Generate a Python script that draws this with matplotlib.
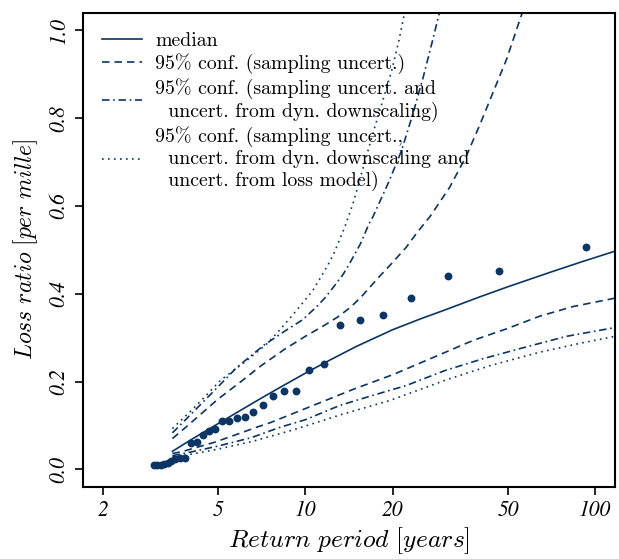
import numpy as np
import matplotlib
matplotlib.use('Agg')
import matplotlib.pyplot as plt
from matplotlib.ticker import FixedLocator, FuncFormatter, NullLocator

# empirical losses (return period in years, loss ratio in per mille)
obs_period = [3.0, 3.08, 3.17, 3.26, 3.35, 3.45, 3.56, 3.69, 3.86, 4.03, 4.22,
              4.42, 4.64, 4.88, 5.17, 5.47, 5.80, 6.18, 6.62, 7.12, 7.73, 8.46,
              9.28, 10.32, 11.59, 13.2, 15.5, 18.6, 23.1, 31.0, 46.5, 92.8]
obs_loss = [0.011, 0.011, 0.011, 0.013, 0.015, 0.020, 0.024, 0.025, 0.025,
            0.061, 0.062, 0.078, 0.088, 0.091, 0.109, 0.109, 0.118, 0.119,
            0.130, 0.146, 0.166, 0.179, 0.179, 0.226, 0.241, 0.328, 0.340,
            0.351, 0.391, 0.440, 0.452, 0.506]

med_x = [3.48, 4, 5, 6, 7, 8, 10, 12, 15, 20, 25, 30, 40, 50, 70, 90, 117]
med_y = [0.041, 0.066, 0.104, 0.135, 0.161, 0.183, 0.219, 0.247, 0.280, 0.318,
         0.343, 0.362, 0.393, 0.416, 0.449, 0.473, 0.497]

# sampling uncertainty
samp_up_x = [3.48, 4.0, 5.0, 6.0, 7.0, 8.5, 10.0, 11.5, 13.0, 14.3, 15.5, 16.6,
             18.0, 19.6, 22.3, 24.2, 27.0, 31.5, 36.0, 40.0, 44.0, 49.5, 56.0]
samp_up_y = [0.070, 0.104, 0.160, 0.200, 0.235, 0.274, 0.303, 0.326, 0.348,
             0.369, 0.391, 0.413, 0.439, 0.465, 0.506, 0.538, 0.577, 0.643,
             0.715, 0.785, 0.852, 0.935, 1.04]
samp_lo_x = [3.48, 3.74, 4.88, 6.0, 6.8, 7.55, 10.5, 14.6, 20.1, 30.0, 38.0,
             49.4, 64.4, 84.0, 117]
samp_lo_y = [0.036, 0.040, 0.062, 0.083, 0.096, 0.106, 0.144, 0.182, 0.216,
             0.265, 0.294, 0.320, 0.349, 0.371, 0.390]

# + dyn. downscaling
dyn_up_x = [3.48, 4.0, 5.0, 5.8, 7.2, 8.5, 9.8, 11.0, 11.7, 12.4, 13.5, 14.3,
            15.5, 16.6, 17.1, 19.5, 21.5, 23.5, 25.5, 27.5, 29.0]
dyn_up_y = [0.083, 0.123, 0.188, 0.232, 0.283, 0.315, 0.341, 0.372, 0.391,
            0.412, 0.444, 0.472, 0.514, 0.560, 0.575, 0.658, 0.727, 0.810,
            0.893, 0.978, 1.04]
dyn_lo_x = [3.48, 4.0, 5.0, 6.5, 8.2, 10.0, 13.2, 17.0, 22.3, 30.3, 41.0, 56.4,
            79.6, 117]
dyn_lo_y = [0.031, 0.039, 0.053, 0.072, 0.096, 0.113, 0.146, 0.168, 0.191,
            0.225, 0.252, 0.277, 0.303, 0.323]

# + loss model
all_up_x = [3.48, 4.0, 4.5, 5.1, 6.4, 7.4, 8.2, 9.0, 9.6, 10.6, 11.2, 12.0,
            12.5, 13.7, 14.6, 15.8, 17.1, 18.5, 19.8, 21.0, 22.0]
all_up_y = [0.093, 0.131, 0.165, 0.203, 0.252, 0.287, 0.319, 0.350, 0.372,
            0.407, 0.433, 0.467, 0.489, 0.553, 0.605, 0.685, 0.765, 0.840,
            0.905, 0.975, 1.04]
all_lo_x = [3.48, 4.0, 5.0, 6.6, 9.1, 13.2, 19.6, 31.0, 43.3, 64.4, 90, 117]
all_lo_y = [0.028, 0.034, 0.046, 0.064, 0.090, 0.124, 0.157, 0.205, 0.236,
            0.267, 0.288, 0.303]

x_ticks = [2, 5, 10, 20, 50, 100]
y_ticks = [0.0, 0.2, 0.4, 0.6, 0.8, 1.0]

plt.rcParams['font.family'] = 'cmr10'
plt.rcParams['mathtext.fontset'] = 'cm'
plt.rcParams['axes.formatter.use_mathtext'] = True

col = '#0b3565'
lw = 1.2

fig = plt.figure(figsize=(6.19, 5.59), dpi=100)
ax = fig.add_axes([0.134, 0.129, 0.8595, 0.848])

ax.plot(med_x, med_y, '-', color=col, lw=lw, label='median')
ax.plot(samp_up_x, samp_up_y, color=col, lw=lw, dashes=(4.5, 3),
        label='95% conf. (sampling uncert.)')
ax.plot(samp_lo_x, samp_lo_y, color=col, lw=lw, dashes=(4.5, 3))
ax.plot(dyn_up_x, dyn_up_y, color=col, lw=lw, dashes=(4.5, 2.2, 1, 2.2),
        label='95% conf. (sampling uncert. and\n  uncert. from dyn. downscaling)')
ax.plot(dyn_lo_x, dyn_lo_y, color=col, lw=lw, dashes=(4.5, 2.2, 1, 2.2))
ax.plot(all_up_x, all_up_y, color=col, lw=lw, dashes=(1, 2.6),
        label='95% conf. (sampling uncert.,\n  uncert. from dyn. downscaling and\n  uncert. from loss model)')
ax.plot(all_lo_x, all_lo_y, color=col, lw=lw, dashes=(1, 2.6))
ax.scatter(obs_period, obs_loss, s=32, color=col, zorder=3, linewidths=0)

ax.set_xscale('log')
ax.set_xlim(1.71, 117)
ax.set_ylim(-0.04, 1.04)
ax.xaxis.set_major_locator(FixedLocator(x_ticks))
ax.xaxis.set_minor_locator(NullLocator())
ax.xaxis.set_major_formatter(FuncFormatter(lambda v, p: '%g' % v))
ax.set_yticks(y_ticks)
ax.yaxis.set_major_formatter(FuncFormatter(lambda v, p: '%.1f' % v))
ax.tick_params(direction='out', length=6, width=1.2, labelsize=15.5)
for t in ax.get_xticklabels() + ax.get_yticklabels():
    t.set_fontfamily('STIXGeneral')
    t.set_fontstyle('italic')
for t in ax.get_yticklabels():
    t.set_rotation(90)
    t.set_va('center')
for s in ax.spines.values():
    s.set_linewidth(1.5)

ax.set_xlabel(r'$\mathit{Return\ period\ [years]}$', fontsize=18.4, labelpad=3)
ax.set_ylabel(r'$\mathit{Loss\ ratio\ [per\ mille]}$', fontsize=17, labelpad=6)

ax.legend(loc='upper left', frameon=False, fontsize=14.3, handlelength=2.0,
          handletextpad=0.7, labelspacing=0.2, borderaxespad=0.55)

fig.savefig('out.png', dpi=100)
